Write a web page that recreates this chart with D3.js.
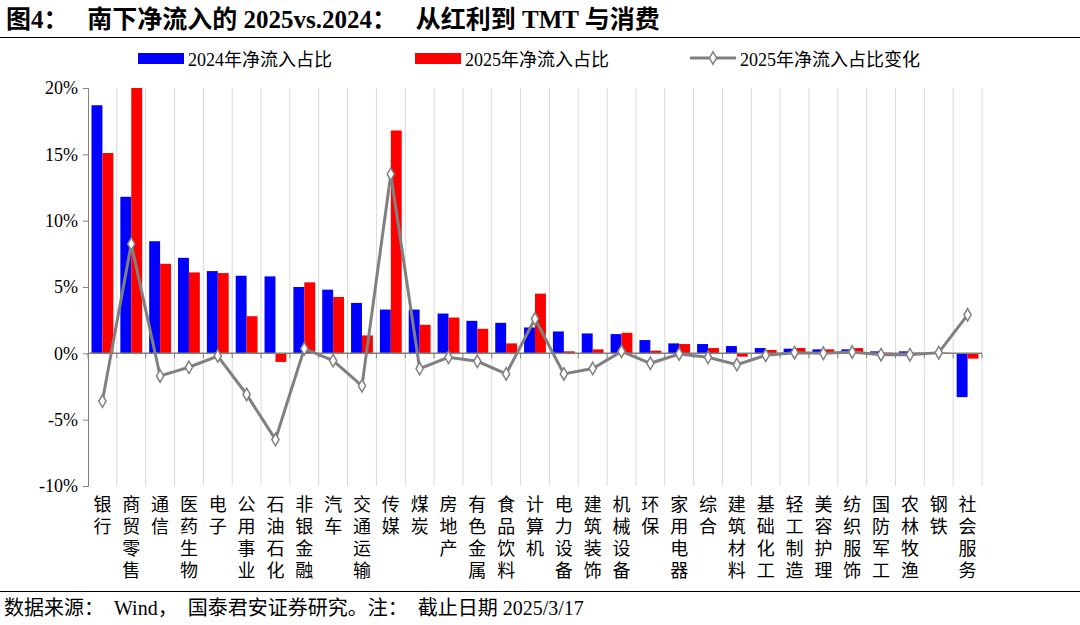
<!DOCTYPE html>
<html><head><meta charset="utf-8">
<script src="https://cdn.jsdelivr.net/npm/d3@7"></script>
<style>body{margin:0;background:#fff}text{font-family:"Liberation Serif","Noto Sans CJK SC",serif;white-space:pre}</style>
</head><body><svg id="c" width="1080" height="625"></svg>
<script>
const categories=["银行","商贸零售","通信","医药生物","电子","公用事业","石油石化","非银金融","汽车","交通运输","传媒","煤炭","房地产","有色金属","食品饮料","计算机","电力设备","建筑装饰","机械设备","环保","家用电器","综合","建筑材料","基础化工","轻工制造","美容护理","纺织服饰","国防军工","农林牧渔","钢铁","社会服务"];
const share2024=[18.7,11.8,8.45,7.2,6.2,5.85,5.8,5.0,4.8,3.8,3.3,3.3,3.0,2.45,2.3,1.95,1.65,1.5,1.45,1.0,0.75,0.7,0.55,0.4,0.35,0.3,0.3,0.15,0.15,0.05,-3.3];
const share2025=[15.1,20.0,6.75,6.1,6.05,2.8,-0.65,5.35,4.25,1.35,16.8,2.15,2.7,1.85,0.75,4.5,0.15,0.3,1.55,0.2,0.7,0.4,-0.25,0.25,0.4,0.3,0.4,0.05,0.05,0.05,-0.4];
const change=[-3.6,8.25,-1.7,-1.05,-0.2,-3.1,-6.5,0.35,-0.55,-2.45,13.5,-1.15,-0.3,-0.6,-1.55,2.6,-1.55,-1.15,0.15,-0.75,-0.05,-0.3,-0.85,-0.15,0.05,0,0.1,-0.1,-0.1,0.05,2.9];
const yTicks=[-10,-5,0,5,10,15,20];
const svg=d3.select("#c");
const x=d3.scaleBand().domain(categories).range([88,982]);
const y=d3.scaleLinear().domain([-10,20]).range([486,88]);
const bw=x.bandwidth();
svg.append("text").attr("x",6).attr("y",28).attr("font-size",25).attr("font-weight","bold").text("图4：   南下净流入的 2025vs.2024：   从红利到 TMT 与消费");
svg.append("line").attr("x1",0).attr("x2",1080).attr("y1",37.5).attr("y2",37.5).attr("stroke","#000").attr("stroke-width",1.2);
svg.append("g").selectAll("line").data(d3.range(1,categories.length+1)).join("line")
 .attr("x1",i=>88+bw*i).attr("x2",i=>88+bw*i)
 .attr("y1",y(20)).attr("y2",y(-10)).attr("stroke","#d9d9d9");
const g=svg.append("g");
g.selectAll(".b1").data(share2024).join("rect").attr("fill","#0000ff")
 .attr("x",(d,i)=>x(categories[i])+3.5).attr("width",bw/2-3.5)
 .attr("y",d=>y(Math.max(0,d))).attr("height",d=>Math.abs(y(d)-y(0)));
g.selectAll(".b2").data(share2025).join("rect").attr("fill","#ff0000")
 .attr("x",(d,i)=>x(categories[i])+bw/2).attr("width",bw/2-3.5)
 .attr("y",d=>y(Math.max(0,d))).attr("height",d=>Math.abs(y(d)-y(0)));
const ya=svg.append("g").attr("transform","translate(88,0)").call(d3.axisLeft(y).tickValues(yTicks).tickFormat(d=>d+"%").tickSize(5));
ya.select(".domain").attr("stroke","#808080");
ya.selectAll(".tick line").attr("stroke","#808080");
ya.selectAll("text").attr("font-size",18).attr("fill","#000").attr("font-family","Liberation Serif").attr("dx",-2);
svg.append("line").attr("x1",88).attr("x2",982).attr("y1",y(0)).attr("y2",y(0)).attr("stroke","#808080").attr("stroke-width",1.5);
svg.append("g").selectAll("line").data(d3.range(categories.length+1)).join("line")
 .attr("x1",i=>88+bw*i).attr("x2",i=>88+bw*i).attr("y1",y(0)).attr("y2",y(0)+5).attr("stroke","#808080");
const cx=(i)=>x(categories[i])+bw/2;
svg.append("path").datum(change).attr("fill","none").attr("stroke","#808080").attr("stroke-width",3)
 .attr("d",d3.line().x((d,i)=>cx(i)).y(d=>y(d)));
svg.append("g").selectAll("path").data(change).join("path")
 .attr("d",d3.symbol(d3.symbolDiamond,45)).attr("transform",(d,i)=>`translate(${cx(i)},${y(d)})`)
 .attr("fill","#fff").attr("stroke","#808080").attr("stroke-width",1.5);
const lab=svg.append("g");
categories.forEach((c,i)=>{
  [...c].forEach((ch,j)=>lab.append("text").attr("x",cx(i)).attr("y",511+j*22).attr("text-anchor","middle").attr("font-size",18).attr("font-family","Noto Sans CJK SC").text(ch));
});
const leg=[{t:"2024年净流入占比",c:"#0000ff",type:"bar",x:138},{t:"2025年净流入占比",c:"#ff0000",type:"bar",x:415},{t:"2025年净流入占比变化",c:"#808080",type:"line",x:690}];
leg.forEach(l=>{
  if(l.type=="bar") svg.append("rect").attr("x",l.x).attr("y",53).attr("width",46).attr("height",11).attr("fill",l.c);
  else { svg.append("line").attr("x1",l.x).attr("x2",l.x+46).attr("y1",58).attr("y2",58).attr("stroke",l.c).attr("stroke-width",3);
    svg.append("path").attr("d",d3.symbol(d3.symbolDiamond,45)).attr("transform",`translate(${l.x+23},58)`).attr("fill","#fff").attr("stroke",l.c).attr("stroke-width",1.5);}
  svg.append("text").attr("x",l.x+50).attr("y",66).attr("font-size",18).attr("font-family","Noto Sans CJK SC").text(l.t);
});
svg.append("line").attr("x1",0).attr("x2",1080).attr("y1",591.5).attr("y2",591.5).attr("stroke","#000").attr("stroke-width",1.2);
svg.append("text").attr("x",4).attr("y",615).attr("font-size",20).text("数据来源：  Wind，  国泰君安证券研究。注：  截止日期 2025/3/17");
</script></body></html>
